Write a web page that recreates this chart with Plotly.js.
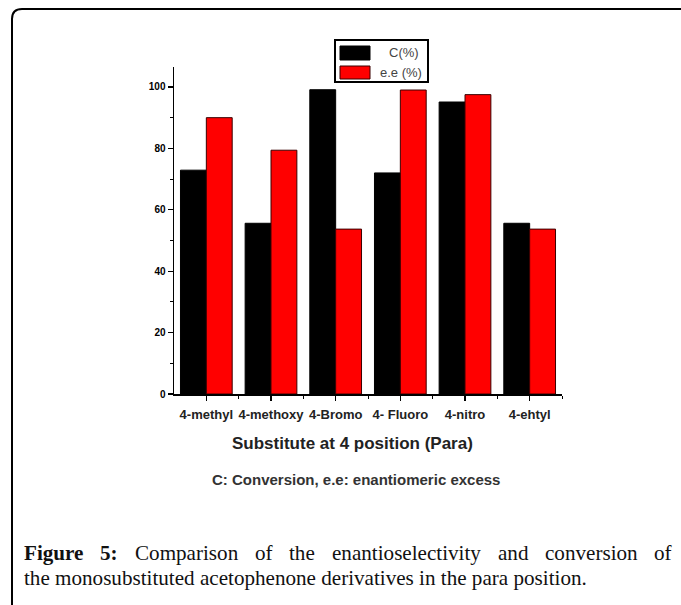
<!DOCTYPE html>
<html>
<head>
<meta charset="utf-8">
<script src="https://cdn.plot.ly/plotly-3.0.1.min.js"></script>
<style>
  html, body { margin: 0; padding: 0; background: #fff; }
  #chart { width: 681px; height: 605px; }
</style>
</head>
<body>
<div id="chart"></div>
<script>
// ---- data ----
const categories = ['4-methyl', '4-methoxy', '4-Bromo', '4- Fluoro', '4-nitro', '4-ehtyl'];
const conversion = [72.9, 55.6, 99.1, 72.0, 95.1, 55.6];
const enantiomericExcess = [90.0, 79.4, 53.7, 99.0, 97.5, 53.7];
const seriesNames = ['C(%)', 'e.e (%)'];
const yTickValues = [0, 20, 40, 60, 80, 100];
const yMinorTicks = [10, 30, 50, 70, 90];
const xTitle = 'Substitute at 4 position (Para)';
const note = 'C: Conversion, e.e: enantiomeric excess';
const captionLabel = ['Figure', '5:'];
const captionLine1 = ['Comparison', 'of', 'the', 'enantioselectivity', 'and', 'conversion', 'of'];
const captionLine2 = 'the monosubstituted acetophenone derivatives in the para position.';

// ---- layout geometry ----
const W = 681, H = 605;
const M = { l: 174, r: 119, t: 67, b: 211 };
const plotW = W - M.l - M.r, plotH = H - M.t - M.b;
const px = x => (x - M.l) / plotW;          // pixel -> paper x
const py = y => (H - M.b - y) / plotH;      // pixel -> paper y

const idx = categories.map((c, i) => i);
const sans = 'Liberation Sans, Arial, sans-serif';
const serif = 'Liberation Serif, Times New Roman, serif';

const traces = [
  { type: 'bar', x: idx, y: conversion, name: seriesNames[0],
    marker: { color: '#000000', line: { color: '#000000', width: 1 } }, hoverinfo: 'y' },
  { type: 'bar', x: idx, y: enantiomericExcess, name: seriesNames[1],
    marker: { color: '#ff0000', line: { color: '#3a0000', width: 1 } }, hoverinfo: 'y' }
];

// ---- caption measurement ----
const ctx = document.createElement('canvas').getContext('2d');
function tw(text, size, bold) { ctx.font = (bold ? 'bold ' : '') + size + 'px ' + serif; return ctx.measureText(text).width; }
const line2Target = 585 - 22;
const capSize = 18 * line2Target / tw(captionLine2, 18, false);
const words1 = captionLabel.map(t => ({ t, b: true })).concat(captionLine1.map(t => ({ t, b: false })));
const line1Target = 670 - 22;
const sumW = words1.reduce((s, w) => s + tw(w.t, capSize, w.b), 0);
const gap = (line1Target - sumW) / (words1.length - 1);

const annotations = [];
let cx = 22;
words1.forEach(w => {
  annotations.push({ xref: 'paper', yref: 'paper', x: px(cx), y: py(553), xanchor: 'left', yanchor: 'middle',
    text: w.b ? '<b>' + w.t + '</b>' : w.t, showarrow: false,
    font: { family: serif, size: capSize, color: '#111' } });
  cx += tw(w.t, capSize, w.b) + gap;
});
annotations.push({ xref: 'paper', yref: 'paper', x: px(22), y: py(578), xanchor: 'left', yanchor: 'middle',
  text: captionLine2, showarrow: false, font: { family: serif, size: capSize, color: '#111' } });

// x axis title (placed to match the reference, slightly left of the plot centre)
annotations.push({ xref: 'paper', yref: 'paper', x: px(352), y: py(443), xanchor: 'center', yanchor: 'middle',
  text: xTitle, showarrow: false, font: { family: sans, size: 17, weight: 'bold', color: '#222' } });

// subtitle note
annotations.push({ xref: 'paper', yref: 'paper', x: px(356), y: py(479), xanchor: 'center', yanchor: 'middle',
  text: note, showarrow: false, font: { family: sans, size: 15, weight: 'bold', color: '#333' } });

// legend text
annotations.push({ xref: 'paper', yref: 'paper', x: px(421), y: py(53), xanchor: 'right', yanchor: 'middle',
  text: seriesNames[0], showarrow: false, font: { family: sans, size: 13, color: '#444' } });
annotations.push({ xref: 'paper', yref: 'paper', x: px(424), y: py(72.5), xanchor: 'right', yanchor: 'middle',
  text: seriesNames[1], showarrow: false, font: { family: sans, size: 13, color: '#444' } });

const shapes = [
  // legend frame
  { type: 'rect', xref: 'paper', yref: 'paper', x0: px(335), x1: px(428), y0: py(40), y1: py(82),
    line: { color: '#000', width: 2 }, fillcolor: '#fff' },
  // legend swatches
  { type: 'rect', xref: 'paper', yref: 'paper', x0: px(340), x1: px(370), y0: py(46), y1: py(60),
    line: { color: '#000', width: 1 }, fillcolor: traces[0].marker.color },
  { type: 'rect', xref: 'paper', yref: 'paper', x0: px(340), x1: px(370), y0: py(66), y1: py(79),
    line: { color: '#3a0000', width: 1 }, fillcolor: traces[1].marker.color },
  // short extension of the x axis line left of the y axis
  { type: 'line', xref: 'paper', yref: 'paper', x0: px(168), x1: px(174), y0: 0, y1: 0,
    line: { color: '#000', width: 1.5 } },
  // page frame with rounded corner
  { type: 'path', xref: 'paper', yref: 'paper',
    path: `M ${px(12)},${py(606)} L ${px(12)},${py(19)} Q ${px(12)},${py(9)} ${px(22)},${py(9)} L ${px(682)},${py(9)}`,
    line: { color: '#000', width: 2 } }
];

const layout = {
  width: W, height: H,
  margin: M,
  paper_bgcolor: '#fff', plot_bgcolor: '#fff',
  showlegend: false,
  barmode: 'group', bargap: 0.2, bargroupgap: 0,
  font: { family: sans, color: '#111' },
  xaxis: {
    range: [-0.5, 5.5], tickmode: 'array', tickvals: idx, ticktext: categories,
    showline: true, linecolor: '#000', linewidth: 1.5, mirror: false,
    ticks: 'outside', ticklen: 5, tickwidth: 1.2, tickcolor: '#000',
    minor: { tickmode: 'array', tickvals: idx.map(i => i + 0.5), ticks: 'outside', ticklen: 3, tickwidth: 1, tickcolor: '#000' },
    showgrid: false, zeroline: false, fixedrange: true,
    tickfont: { family: sans, size: 13, weight: 'bold', color: '#222' },
    ticklabelstandoff: 3
  },
  yaxis: {
    range: [0, 106.5], tickmode: 'array', tickvals: yTickValues,
    showline: true, linecolor: '#000', linewidth: 1.5,
    ticks: 'outside', ticklen: 5, tickwidth: 1.2, tickcolor: '#000',
    minor: { tickmode: 'array', tickvals: yMinorTicks, ticks: 'outside', ticklen: 3, tickwidth: 1, tickcolor: '#000' },
    showgrid: false, zeroline: false, fixedrange: true,
    tickfont: { family: sans, size: 10, weight: 'bold', color: '#000' }
  },
  annotations, shapes
};

Plotly.newPlot('chart', traces, layout, { displayModeBar: false, staticPlot: true });
</script>
</body>
</html>
